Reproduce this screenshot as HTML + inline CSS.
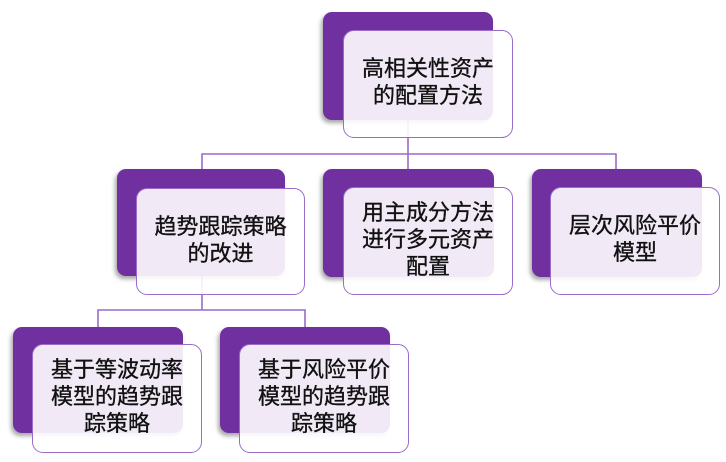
<!DOCTYPE html>
<html>
<head>
<meta charset="utf-8">
<style>
  html, body { margin:0; padding:0; background:#fff; }
  body { width:726px; height:462px; position:relative; overflow:hidden;
         font-family:"Liberation Sans","Noto Sans CJK SC",sans-serif; }
  svg.lines { position:absolute; left:0; top:0; }
  .back { position:absolute; background:#7030A0; border-radius:9px;
          box-shadow:-2px 3px 4px rgba(0,0,0,0.35); }
  .front { position:absolute; background:rgba(255,255,255,0.9); border:1.5px solid #9A6BC8;
           border-radius:11px; box-sizing:border-box; display:flex; align-items:center;
           justify-content:center; text-align:center; color:#111; font-size:22px;
           line-height:27px; padding-bottom:4px; -webkit-text-stroke:0.35px #111; }
</style>
</head>
<body>
<svg class="lines" width="726" height="462">
  <g stroke="#9A6BC8" stroke-width="1.6" fill="none">
    <line x1="408" y1="115" x2="408" y2="170"/>
    <polyline points="202,170 202,154 616,154 616,170"/>
    <line x1="202" y1="270" x2="202" y2="310"/>
    <polyline points="98,328 98,310 305,310 305,328"/>
  </g>
</svg>

<div class="back" style="left:323px;top:12px;width:170px;height:108px;"></div>
<div class="front" style="left:343px;top:30px;width:170px;height:108px;">高相关性资产<br>的配置方法</div>

<div class="back" style="left:117px;top:169px;width:168px;height:107px;"></div>
<div class="front" style="left:136px;top:188px;width:169px;height:107px;">趋势跟踪策略<br>的改进</div>

<div class="back" style="left:323px;top:169px;width:171px;height:108px;"></div>
<div class="front" style="left:343px;top:187px;width:170px;height:108px;">用主成分方法<br>进行多元资产<br>配置</div>

<div class="back" style="left:532px;top:169px;width:170px;height:108px;"></div>
<div class="front" style="left:550px;top:187px;width:170px;height:108px;">层次风险平价<br>模型</div>

<div class="back" style="left:13px;top:327px;width:170px;height:106px;"></div>
<div class="front" style="left:32px;top:344px;width:170px;height:109px;">基于等波动率<br>模型的趋势跟<br>踪策略</div>

<div class="back" style="left:220px;top:327px;width:170px;height:106px;"></div>
<div class="front" style="left:239px;top:344px;width:170px;height:109px;">基于风险平价<br>模型的趋势跟<br>踪策略</div>
</body>
</html>
